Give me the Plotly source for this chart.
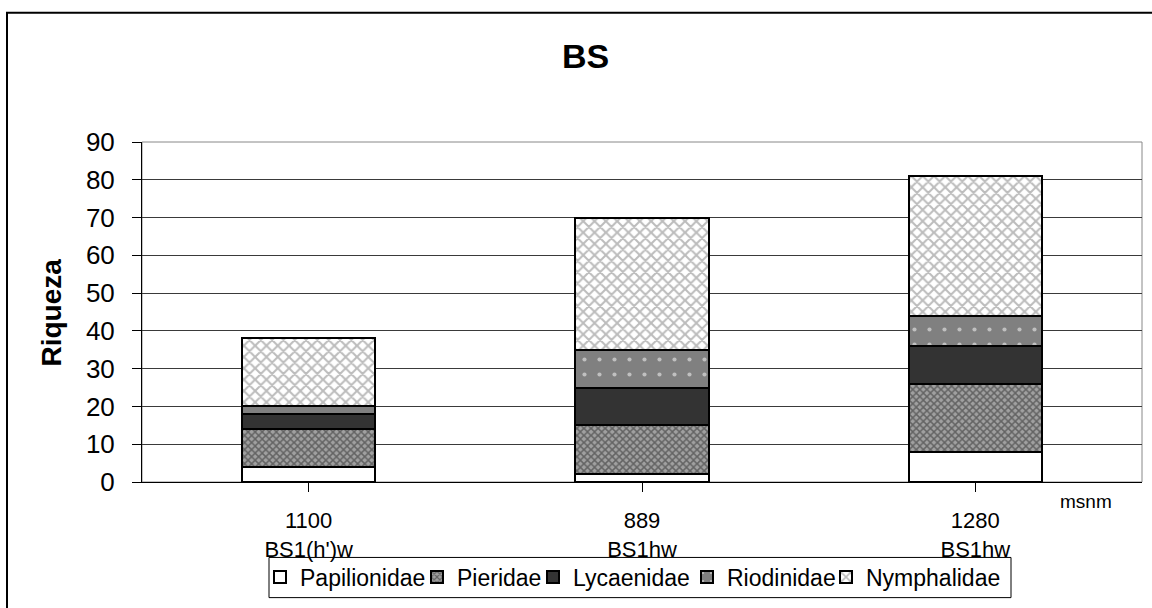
import plotly.graph_objects as go

elevations = ["1100", "889", "1280"]
climates = ["BS1(h')w", "BS1hw", "BS1hw"]
papilionidae = [4, 2, 8]
pieridae = [10, 13, 18]
lycaenidae = [4, 10, 10]
riodinidae = [2, 10, 8]
nymphalidae = [18, 35, 37]
y_ticks = [0, 10, 20, 30, 40, 50, 60, 70, 80, 90]

FONT = "Liberation Sans, Arial, sans-serif"
W, H = 1152, 608
L, R, T, B = 142, 10, 142, 119

pw = W - L - R
ph = H - T - B
def px_x(p):
    return (p - L) / pw
def px_y(p):
    return (H - B - p) / ph

series = [
    ("Papilionidae", papilionidae, dict(color="white")),
    ("Pieridae", pieridae, dict(color="#8c8c8c", pattern=dict(shape="x", fgcolor="#262626", bgcolor="#a0a0a0", size=5, solidity=0.5))),
    ("Lycaenidae", lycaenidae, dict(color="#333333")),
    ("Riodinidae", riodinidae, dict(color="#808080", pattern=dict(shape=".", fgcolor="white", bgcolor="#808080", size=15, solidity=0.06))),
    ("Nymphalidae", nymphalidae, dict(color="white", pattern=dict(shape="x", fgcolor="#7a7a7a", bgcolor="white", size=8, solidity=0.45))),
]
legend_text_px = [300, 457, 573, 727, 866]

fig = go.Figure()
legend_layouts = {}
for i, (name, vals, mk) in enumerate(series):
    mk = dict(mk)
    mk["line"] = dict(color="black", width=2)
    lname = "legend" if i == 0 else f"legend{i + 1}"
    fig.add_trace(go.Bar(x=[0, 1, 2], y=vals, name=name, marker=mk, legend=lname))
    legend_layouts[lname] = dict(
        x=px_x(legend_text_px[i] - 40), xanchor="left",
        y=px_y(586), yanchor="middle",
        borderwidth=0, bgcolor="rgba(0,0,0,0)",
        font=dict(size=23, family=FONT, color="black"), itemwidth=30,
    )

tick_text = [f"{e}<br>{c}" for e, c in zip(elevations, climates)]

annotations = [
    dict(text="<b>BS</b>", x=px_x(585), y=px_y(54), xref="paper", yref="paper",
         showarrow=False, font=dict(size=34, family=FONT), xanchor="center", yanchor="middle"),
    dict(text="<b>Riqueza</b>", x=px_x(51), y=px_y(316), xref="paper", yref="paper",
         showarrow=False, textangle=-90, font=dict(size=28, family=FONT),
         xanchor="center", yanchor="middle"),
    dict(text="msnm", x=px_x(1086), y=px_y(509), xref="paper", yref="paper",
         showarrow=False, font=dict(size=19, family=FONT), xanchor="center", yanchor="middle"),
]

fig.update_layout(
    width=W, height=H,
    margin=dict(l=L, r=R, t=T, b=B, pad=0),
    barmode="stack", bargap=0.6,
    paper_bgcolor="white", plot_bgcolor="white",
    font=dict(family=FONT, color="black"),
    showlegend=True,
    xaxis=dict(
        tickmode="array", tickvals=[0, 1, 2], ticktext=tick_text,
        range=[-0.5, 2.5], tickson="boundaries", ticks="outside", ticklen=9,
        tickcolor="black", showline=True, linecolor="black", linewidth=1,
        showgrid=False, tickfont=dict(size=22, family=FONT), zeroline=False,
        ticklabelstandoff=10,
    ),
    yaxis=dict(
        range=[0, 90], tickvals=y_ticks, ticks="outside", ticklen=9,
        tickcolor="black", showline=True, linecolor="black", linewidth=1,
        showgrid=True, gridcolor="#3a3a3a", gridwidth=1, zeroline=False,
        tickfont=dict(size=26, family=FONT), ticklabelstandoff=12,
    ),
    shapes=[
        dict(type="rect", xref="paper", yref="paper", x0=0, y0=0, x1=1, y1=1,
             line=dict(color="#888888", width=1), layer="below"),
        dict(type="rect", xref="paper", yref="paper", x0=px_x(7), y0=px_y(10),
             x1=px_x(1160), y1=px_y(620), line=dict(color="black", width=2)),
        dict(type="rect", xref="paper", yref="paper", x0=px_x(269), y0=px_y(566),
             x1=px_x(1011), y1=px_y(607), line=dict(color="black", width=1)),
    ],
    annotations=annotations,
    **legend_layouts,
)

fig.write_html("out.html")
